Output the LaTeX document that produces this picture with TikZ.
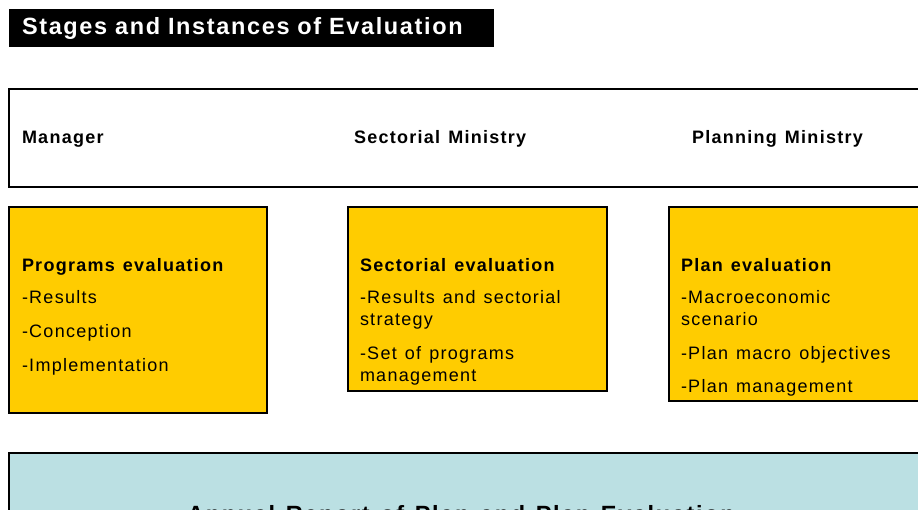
\documentclass[tikz,border=0pt]{standalone}
\usepackage{fontspec}
\setmainfont{Liberation Sans}[LetterSpace=7, WordSpace=1.3]
\usepackage{tikz}
\usetikzlibrary{positioning}
\definecolor{stageyellow}{HTML}{FFCC00}
\definecolor{reportblue}{HTML}{BBE0E3}

\begin{document}
\begin{tikzpicture}[
        x=1pt, y=-1pt,
        every node/.style={inner sep=0pt, outer sep=0pt},
        titlebar/.style={fill=black, text=white, font=\fontsize{23.5}{27}\selectfont\bfseries, anchor=north west,
            minimum width=485pt, minimum height=38pt, text width=459pt, align=left},
        actorbox/.style={draw, line width=1.5pt, anchor=north west, minimum width=930pt, minimum height=98pt},
        role/.style={font=\fontsize{18}{22}\selectfont\bfseries, anchor=base west},
        stagebox/.style={draw, line width=1.5pt, fill=stageyellow, anchor=north west},
        stagetext/.style={font=\fontsize{18}{22}\selectfont, align=left},
        reportbox/.style={draw, line width=1.5pt, fill=reportblue, anchor=north west, minimum width=930pt, minimum height=100pt},
        reporttitle/.style={font=\fontsize{23.5}{27}\selectfont\bfseries, anchor=base}
    ]
    \clip (0,0) rectangle (918,510);
    \node[titlebar] (title) at (9,9) {Stages and Instances of Evaluation};

    \node[actorbox] (actors) at (9,89) {};
    \node[role] (manager) at (22,143.5) {Manager};
    \node[role] (sectmin) at (354,143.5) {Sectorial Ministry};
    \node[role] (planmin) at (692,143.5) {Planning Ministry};

    \node[stagebox, minimum width=258pt, minimum height=206pt] (progbox) at (9,207) {};
    \node[stagebox, minimum width=259pt, minimum height=184pt] (sectbox) at (348,207) {};
    \node[stagebox, minimum width=270pt, minimum height=194pt] (planbox) at (669,207) {};

    \node[stagetext, below right=51.5pt and 13pt of progbox.north west] (progtext) {
        \textbf{Programs evaluation} \\[10pt]
        -Results \\[12pt]
        -Conception \\[12pt]
        -Implementation
    };
    \node[stagetext, below right=51.5pt and 12pt of sectbox.north west] (secttext) {
        \textbf{Sectorial evaluation} \\[10pt]
        -Results and sectorial \\
        strategy \\[12pt]
        -Set of programs \\
        management
    };
    \node[stagetext, below right=51.5pt and 12pt of planbox.north west] (plantext) {
        \textbf{Plan evaluation} \\[10pt]
        -Macroeconomic \\
        scenario \\[12pt]
        -Plan macro objectives \\[11pt]
        -Plan management
    };

    \node[reportbox] (report) at (9,453) {};
    \node[reporttitle] (reporttext) at (461,522) {Annual Report of Plan and Plan Evaluation};
\end{tikzpicture}
\end{document}
